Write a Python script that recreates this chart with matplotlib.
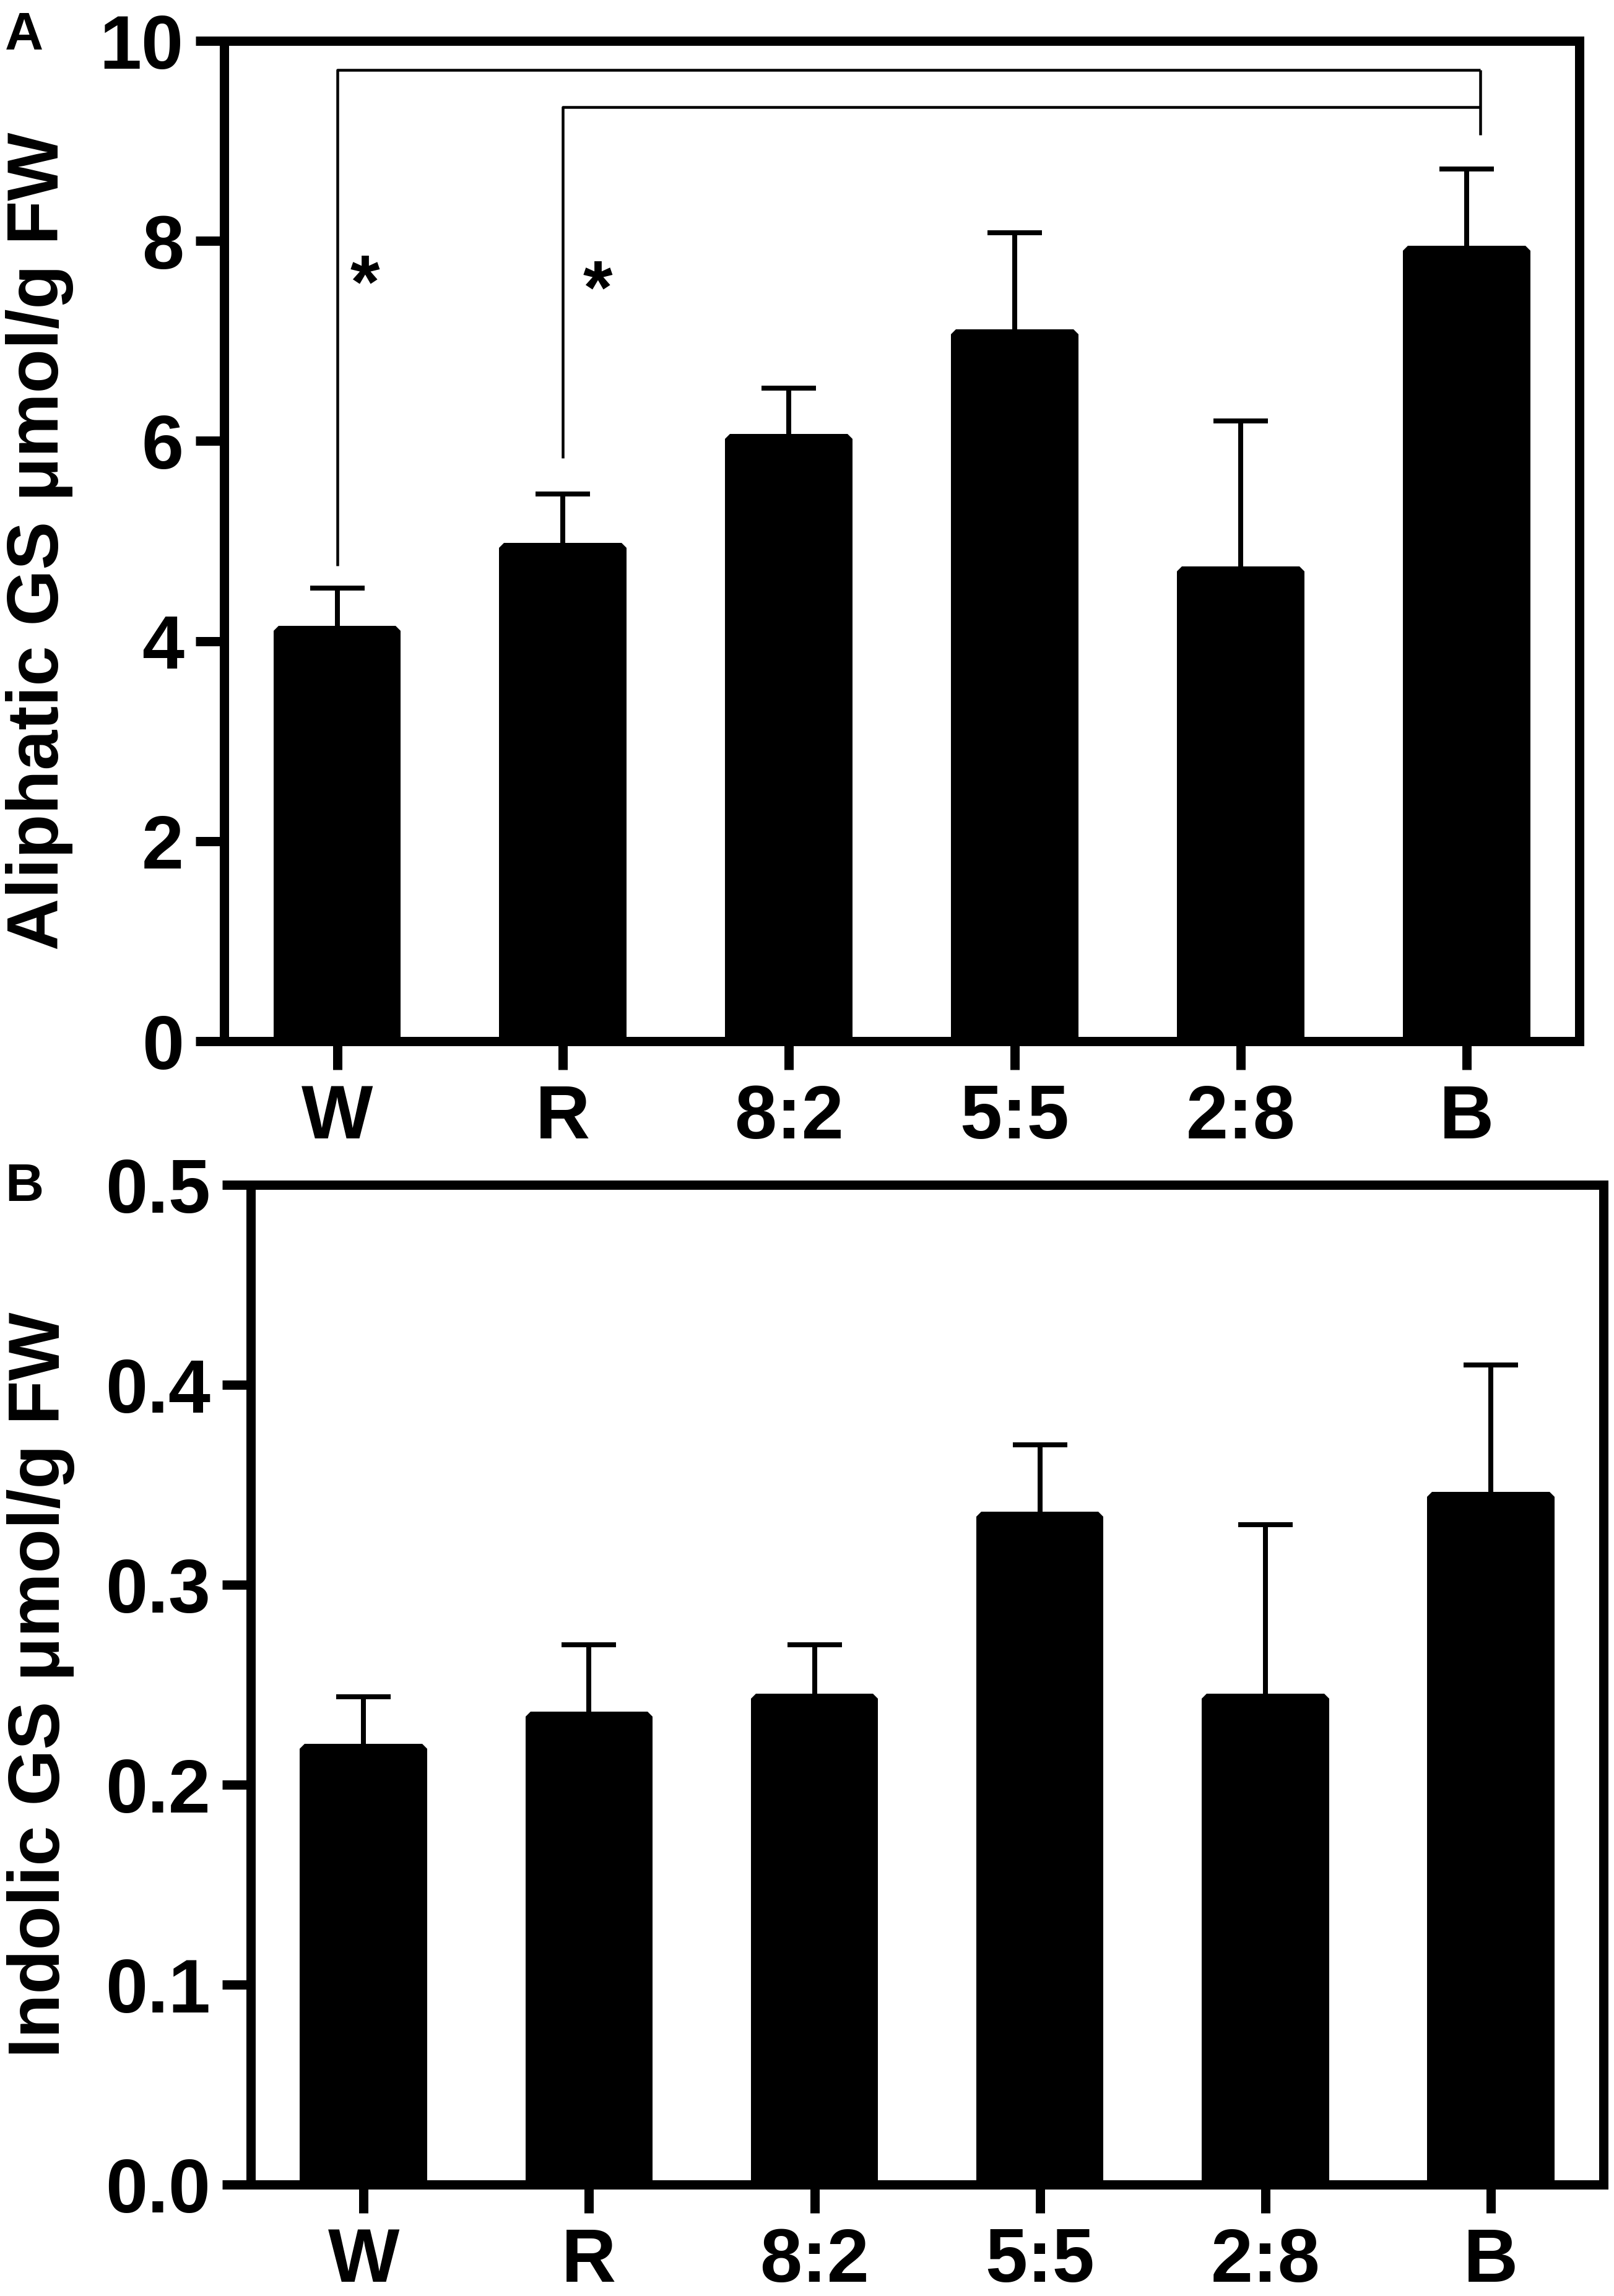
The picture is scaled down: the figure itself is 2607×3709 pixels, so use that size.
import matplotlib
matplotlib.use("Agg")
import matplotlib.pyplot as plt
import numpy as np

plt.rcParams['font.family'] = ['Liberation Sans', 'DejaVu Sans']
plt.rcParams['font.weight'] = 'bold'

# treatments
groups = ['W', 'R', '8:2', '5:5', '2:8', 'B']

# panel A: aliphatic glucosinolates (mean, upper error)
aliph_mean = [4.10, 4.93, 6.02, 7.07, 4.70, 7.90]
aliph_err = [0.43, 0.54, 0.51, 1.01, 1.50, 0.82]
aliph_ticks = [0, 2, 4, 6, 8, 10]

# panel B: indolic glucosinolates (mean, upper error)
indol_mean = [0.218, 0.234, 0.243, 0.334, 0.243, 0.344]
indol_err = [0.026, 0.036, 0.027, 0.036, 0.087, 0.066]
indol_ticks = [0.0, 0.1, 0.2, 0.3, 0.4, 0.5]

# significance brackets in panel A: (from group, bottom of left leg, bar height)
brackets = [(0, 4.75, 9.71), (1, 5.83, 9.34)]
bracket_right = 5.06
bracket_right_bottom = 9.06
# star baselines
stars = [(0.123, 7.34), (1.153, 7.28)]

DPI = 100
px = 72.0 / DPI  # points per pixel

fig = plt.figure(figsize=(26.07, 37.09), dpi=DPI)
axA = fig.add_axes([0.1389, 0.5465, 0.8397, 0.4357])
axB = fig.add_axes([0.1554, 0.0485, 0.8381, 0.4354])

spine_lw = 15 * px
edge_lw = 16 * px
bar_w = 0.564 - 16 / 365.0


def draw_panel(ax, means, errs, ticks, ylabel, fmt, label_x):
    x = np.arange(len(groups))
    ax.bar(x, means, width=bar_w, color='black', edgecolor='black',
           linewidth=edge_lw, joinstyle='bevel', zorder=2)
    ax.errorbar(x, means, yerr=[np.zeros(len(errs)), errs], fmt='none',
                ecolor='black', elinewidth=8 * px, capsize=44 * px,
                capthick=8 * px, zorder=1)
    ax.set_xlim(-0.5, 5.5)
    ax.set_ylim(ticks[0], ticks[-1])
    ax.set_xticks(x)
    ax.set_xticklabels(groups)
    ax.set_yticks(ticks)
    ax.set_yticklabels([fmt % t for t in ticks])
    for s in ax.spines.values():
        s.set_linewidth(spine_lw)
    ax.tick_params(axis='both', direction='out', length=46 * px,
                   width=15 * px, labelsize=88)
    ax.tick_params(axis='x', pad=16)
    ax.tick_params(axis='y', pad=14)
    ax.set_ylabel(ylabel, fontsize=84, fontweight='bold')
    ax.yaxis.set_label_coords(label_x, 0.5)


draw_panel(axA, aliph_mean, aliph_err, aliph_ticks,
           'Aliphatic GS \u03bcmol/g FW', '%d', -0.111)
draw_panel(axB, indol_mean, indol_err, indol_ticks,
           'Indolic GS \u03bcmol/g FW', '%.1f', -0.130)

# brackets and stars in panel A
for g, y0, y1 in brackets:
    axA.plot([g, g, bracket_right], [y0, y1, y1], color='black',
             linewidth=4.5 * px, solid_capstyle='butt', zorder=3)
axA.plot([bracket_right, bracket_right], [brackets[0][2], bracket_right_bottom],
         color='black', linewidth=4.5 * px, solid_capstyle='butt', zorder=3)
for sx, sy in stars:
    axA.text(sx, sy, '*', fontsize=88, fontweight='bold', ha='center',
             va='baseline')

fig.text(0.0031, 0.97843, 'A', fontsize=62, fontweight='bold', ha='left',
         va='baseline')
fig.text(0.0031, 0.47695, 'B', fontsize=62, fontweight='bold', ha='left',
         va='baseline')

fig.savefig('out.png', dpi=DPI)
